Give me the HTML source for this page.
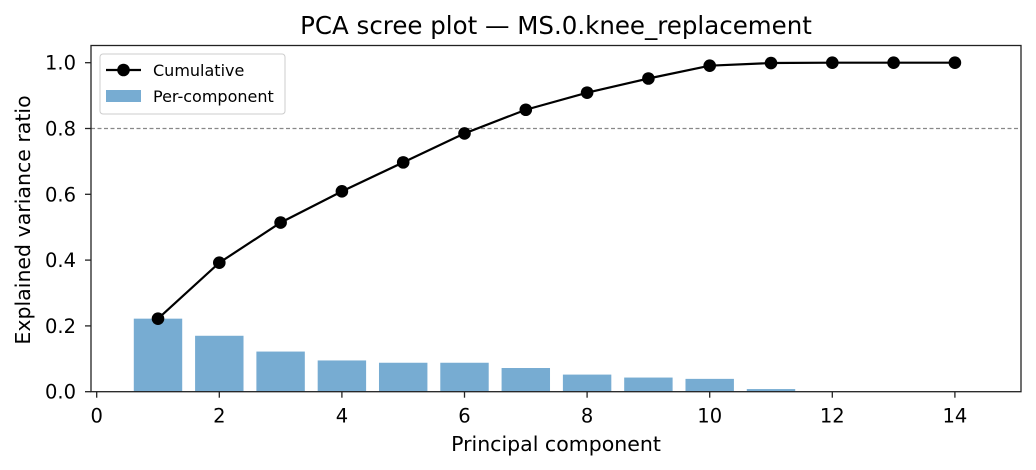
<!DOCTYPE html>
<html><head><meta charset="utf-8"><style>
body{margin:0;background:#fff;}
svg{display:block;font-family:"DejaVu Sans","Liberation Sans",sans-serif;}
</style></head><body>
<svg id="chart" width="1036" height="470" viewBox="0 0 1036 470">
<rect width="1036" height="470" fill="#fff"/>
<text x="556" y="34" font-size="24.5" text-anchor="middle" fill="#000">PCA scree plot — MS.0.knee_replacement</text>
<g id="plot"></g>
<text x="556" y="451" font-size="20.5" text-anchor="middle">Principal component</text>
<text transform="translate(30,220) rotate(-90)" font-size="20.5" text-anchor="middle">Explained variance ratio</text>
</svg>
<script>
const components=[1,2,3,4,5,6,7,8,9,10,11,12,13,14];
const perComponent=[0.222,0.170,0.122,0.095,0.088,0.088,0.072,0.052,0.043,0.039,0.008,0.0005,0.0003,0.0002];
const cumulative=[0.222,0.392,0.514,0.609,0.697,0.785,0.857,0.909,0.952,0.991,0.999,1.0,1.0,1.0];
const xTicks=[0,2,4,6,8,10,12,14];
const yTicks=[0.0,0.2,0.4,0.6,0.8,1.0];
const threshold=0.8;
const L=91,R=1021,T=45.5,B=391.7;
const x=v=>96.7+v*61.3;
const y=v=>B-v*329;
const NS="http://www.w3.org/2000/svg";
const g=document.getElementById('plot');
function mk(tag,attrs){const e=document.createElementNS(NS,tag);for(const k in attrs)e.setAttribute(k,attrs[k]);g.appendChild(e);return e;}
components.forEach((c,i)=>{
  const r=mk('rect',{x:x(c-0.395),y:y(perComponent[i]),width:0.79*61.3,height:B-y(perComponent[i]),fill:'#77acd2'});
  
  
});
const th=mk('line',{x1:L,x2:R,y1:y(threshold),y2:y(threshold),stroke:'#888',"stroke-width":1.2,"stroke-dasharray":"4,2.5"});


const pl=mk('polyline',{points:components.map((c,i)=>x(c)+','+y(cumulative[i])).join(' '),fill:'none',stroke:'#000',"stroke-width":2.2});


components.forEach((c,i)=>{
  const p=mk('circle',{cx:x(c),cy:y(cumulative[i]),r:6.3,fill:'#000'});
  
  
});
const fr=mk('rect',{x:L,y:T,width:R-L,height:B-T,fill:'none',stroke:'#222',"stroke-width":1.3});


xTicks.forEach(t=>{
  const l=mk('line',{x1:x(t),x2:x(t),y1:B,y2:B+6,stroke:'#222',"stroke-width":1.3});
  
  
  const tx=mk('text',{x:x(t),y:B+31,"font-size":19.5,"text-anchor":"middle"});tx.textContent=t;
  
  
});
yTicks.forEach(t=>{
  const l=mk('line',{x1:L-6,x2:L,y1:y(t),y2:y(t),stroke:'#222',"stroke-width":1.3});
  
  
  const tx=mk('text',{x:L-15,y:y(t)+7,"font-size":19.5,"text-anchor":"end"});tx.textContent=t.toFixed(1);
  
  
});
// legend
const lg=mk('rect',{x:100,y:54,width:185,height:60,rx:3,fill:'#fff',"fill-opacity":0.85,stroke:'#ccc'});


const ll=mk('line',{x1:106,x2:141,y1:70,y2:70,stroke:'#000',"stroke-width":2.2});


const lc=mk('circle',{cx:123.5,cy:70,r:6.3,fill:'#000'});


const t1=mk('text',{x:153,y:76,"font-size":16});t1.textContent='Cumulative';


const lb=mk('rect',{x:106,y:90,width:35,height:12,fill:'#77acd2'});


const t2=mk('text',{x:153,y:102,"font-size":16});t2.textContent='Per-component';


</script>
</body></html>
